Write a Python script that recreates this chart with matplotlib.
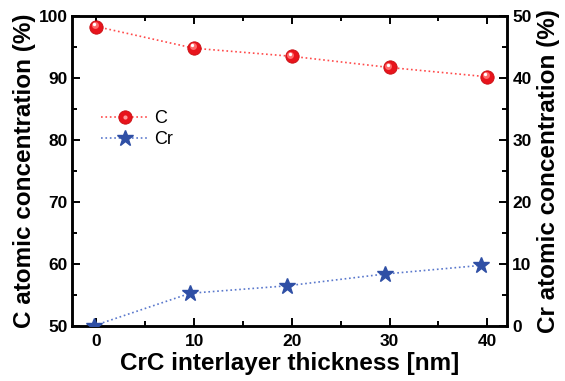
import matplotlib
matplotlib.use("Agg")
import matplotlib.pyplot as plt
from matplotlib.transforms import offset_copy
from matplotlib.legend_handler import HandlerTuple
from matplotlib.lines import Line2D

# Data
x_c = [0, 10, 20, 30, 40]
c_conc = [98.3, 94.8, 93.5, 91.7, 90.2]
x_cr = [-0.2, 9.6, 19.5, 29.5, 39.4]
cr_conc = [0.1, 5.3, 6.5, 8.4, 9.8]
x_ticks = [0, 10, 20, 30, 40]
left_ticks = [50, 60, 70, 80, 90, 100]
right_ticks = [0, 10, 20, 30, 40, 50]

plt.rcParams['font.family'] = ['Liberation Sans', 'DejaVu Sans']

fig = plt.figure(figsize=(5.65, 3.81), dpi=100)
ax = fig.add_axes([0.1274, 0.144, 0.7696, 0.814])
ax2 = ax.twinx()

red = '#e8141c'
blue = '#2f4fa5'

# C series (spheres)
ax.plot(x_c, c_conc, linestyle=':', color='#ff4a4a', lw=1.2, zorder=2)
ax.plot(x_c, c_conc, linestyle='none', marker='o', ms=9.6, mfc=red, mec='#c80c10', mew=0.6, zorder=3)
t1 = offset_copy(ax.transData, fig=fig, x=-1.0, y=1.3, units='points')
ax.plot(x_c, c_conc, linestyle='none', marker='o', ms=5.0, mfc='#ff6a6a', mec='none', transform=t1, zorder=4)
t2 = offset_copy(ax.transData, fig=fig, x=-1.4, y=2.0, units='points')
ax.plot(x_c, c_conc, linestyle='none', marker='o', ms=2.4, mfc='white', mec='none', transform=t2, zorder=5)

# Cr series (stars)
ax2.plot(x_cr, cr_conc, linestyle=':', color='#5a78cc', lw=1.2, marker='*', ms=12,
         mfc=blue, mec=blue, zorder=3)

ax.set_xlim(-2.5, 42)
ax.set_ylim(50, 100)
ax2.set_ylim(0, 50)
ax.set_xticks(x_ticks)
ax.set_xticks([5, 15, 25, 35], minor=True)
ax.set_yticks(left_ticks)
ax.set_yticks([55, 65, 75, 85, 95], minor=True)
ax2.set_yticks(right_ticks)
ax2.set_yticks([5, 15, 25, 35, 45], minor=True)

for a in (ax, ax2):
    for s in a.spines.values():
        s.set_linewidth(1.8)

ax.tick_params(which='both', direction='in', top=True, right=False, width=1.4,
               labelsize=12.5)
ax.tick_params(which='major', length=6)
ax.tick_params(which='minor', length=3.5)
ax.tick_params(axis='x', pad=6)
ax.tick_params(axis='y', pad=3)
ax2.tick_params(which='both', direction='in', width=1.4, labelsize=12.5, pad=4)
ax2.tick_params(which='major', length=6)
ax2.tick_params(which='minor', length=3.5)
for lab in ax.get_xticklabels() + ax.get_yticklabels() + ax2.get_yticklabels():
    lab.set_fontweight('bold')

ax.set_xlabel('CrC interlayer thickness [nm]', fontsize=17.5, fontweight='bold', labelpad=2)
ax.set_ylabel('C atomic concentration (%)', fontsize=17.5, fontweight='bold', labelpad=2)
ax2.set_ylabel('Cr atomic concentration (%)', fontsize=17.5, fontweight='bold', labelpad=4)

# Legend
h_c = (Line2D([], [], linestyle=':', color='#ff4a4a', lw=1.2),
       Line2D([], [], linestyle='none', marker='o', ms=9.6, mfc=red, mec='#c80c10', mew=0.6),
       Line2D([], [], linestyle='none', marker='o', ms=3.0, mfc='#ff9a9a', mec='none'))
h_cr = Line2D([], [], linestyle=':', color='#5a78cc', lw=1.2, marker='*', ms=12,
              mfc=blue, mec=blue)
leg = ax2.legend([h_c, h_cr], ['C', 'Cr'], handler_map={tuple: HandlerTuple(ndivide=1)},
                 loc='center left', bbox_to_anchor=(0.03, 0.635), frameon=False,
                 fontsize=13, handlelength=2.6, handletextpad=0.3, labelspacing=0.25)

fig.savefig('out.png', dpi=100)
